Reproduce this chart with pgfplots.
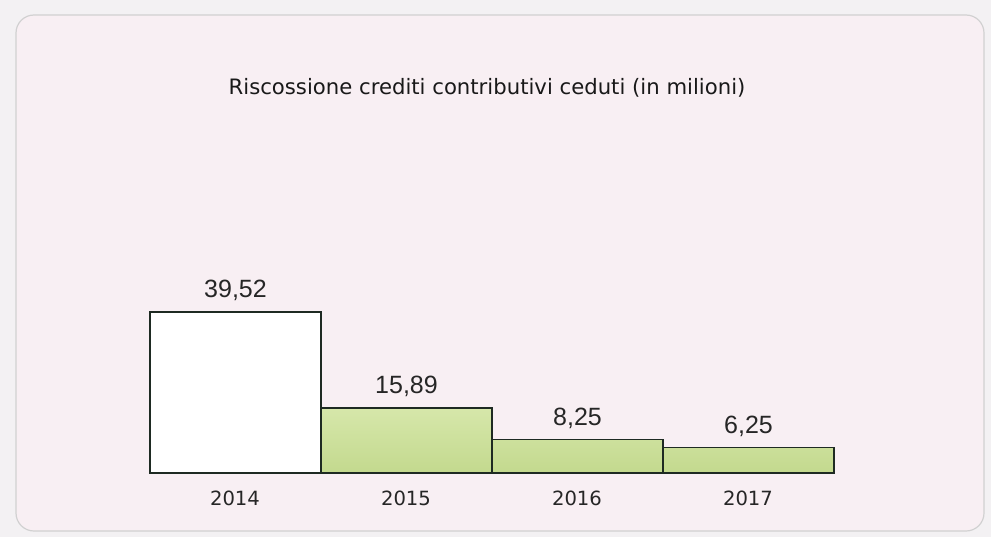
\documentclass[border=0pt]{standalone}
\usepackage{pgfplots}
\pgfplotsset{compat=1.18}
\usepackage{fontspec}
\setmainfont{DejaVu Sans}
\newfontfamily\arial{Liberation Sans}
\definecolor{outerbg}{HTML}{F3F1F3}
\definecolor{innerbg}{HTML}{F8EFF3}
\definecolor{bargtop}{HTML}{D6E7AA}
\definecolor{bargbot}{HTML}{C3D98E}
\definecolor{bord}{HTML}{1E2A22}
\begin{document}
\begin{tikzpicture}
\fill[outerbg] (0,0) rectangle (495.5pt,268.5pt);
\fill[innerbg, draw=black!18, line width=0.6pt, rounded corners=9pt] (8pt,3pt) rectangle (492pt,261pt);
\node[font=\fontsize{10.6}{12}\selectfont, text=black!90] at (243.5pt,224.5pt) {Riscossione crediti contributivi ceduti (in milioni)};
\begin{axis}[
  at={(75pt,32pt)}, anchor=south west,
  scale only axis, width=342pt, height=101.75pt,
  xmin=-0.5, xmax=3.5, ymin=0, ymax=50,
  axis lines=none, clip=false,
  ybar, bar width=1, bar shift=0pt,
  xtick=\empty, ytick=\empty,
  nodes near coords,
  every node near coord/.append style={font=\arial\fontsize{12.5}{14}\selectfont, text=black!85, yshift=1.8pt},
  /pgf/number format/.cd, use comma, fixed, precision=2, fixed zerofill, assume math mode=true,
]
\addplot[draw=bord, line width=0.9pt, fill=white] coordinates {(0,39.52)};
\addplot[draw=bord, line width=0.9pt, shade, top color=bargtop, bottom color=bargbot] coordinates {(1,15.89) (2,8.25) (3,6.25)};
\end{axis}
\begin{scope}[font=\fontsize{9.8}{11}\selectfont, text=black!85]
\node at (117.5pt,19.5pt) {2014};
\node at (203pt,19.5pt) {2015};
\node at (288.5pt,19.5pt) {2016};
\node at (374pt,19.5pt) {2017};
\end{scope}
\end{tikzpicture}
\end{document}
